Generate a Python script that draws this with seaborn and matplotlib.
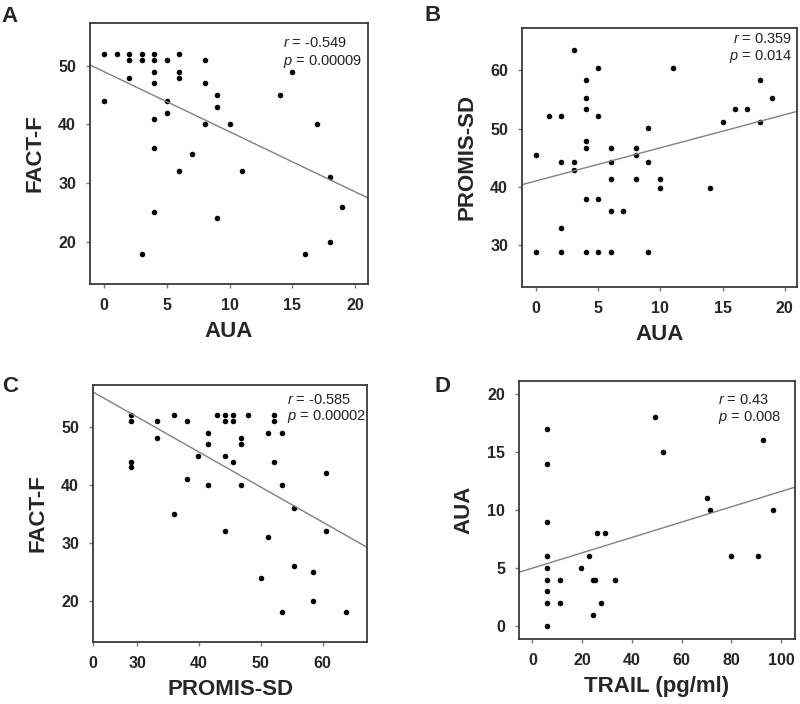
import numpy as np
import pandas as pd
import matplotlib
matplotlib.use("Agg")
import matplotlib.pyplot as plt
import seaborn as sns

# ---- data ----
a_aua = [0, 1, 2, 3, 4, 6, 2, 3, 4, 5, 8, 15, 4, 6, 2, 6, 4, 8, 0, 5, 9, 14, 9, 5, 4,
         8, 10, 17, 4, 7, 6, 11, 18, 19, 4, 9, 18, 3, 16]
a_fact = [52, 52, 52, 52, 52, 52, 51, 51, 51, 51, 51, 49, 49, 49, 48, 48, 47, 47, 44, 44,
          45, 45, 43, 42, 41, 40, 40, 40, 36, 35, 32, 32, 31, 26, 25, 24, 20, 18, 18]

b_aua = [3, 5, 11, 4, 18, 4, 19, 4, 16, 17, 1, 2, 5, 15, 18, 9, 4, 4, 6, 8, 0, 8, 2, 3, 6, 9,
         3, 6, 8, 10, 10, 14, 4, 5, 6, 7, 2, 0, 2, 4, 5, 6, 9]
b_promis = [63.6, 60.4, 60.4, 58.3, 58.3, 55.3, 55.3, 53.3, 53.3, 53.3, 52.2, 52.2, 52.2,
            51.2, 51.2, 50.1, 47.9, 46.7, 46.7, 46.7, 45.4, 45.4, 44.2, 44.2, 44.2, 44.2,
            42.9, 41.4, 41.4, 41.4, 39.8, 39.8, 37.9, 37.9, 35.9, 35.9, 33.0, 28.8, 28.8,
            28.8, 28.8, 28.8, 28.8]

c_promis = [28.9, 28.9, 28.9, 28.9, 33.1, 33.1, 35.9, 35.9, 38.0, 38.0, 39.8, 41.4, 41.4,
            41.4, 42.9, 44.2, 44.2, 44.2, 44.2, 45.5, 45.5, 45.5, 46.8, 46.8, 46.8, 47.9,
            50.1, 51.2, 51.2, 52.2, 52.2, 52.2, 53.4, 53.4, 53.4, 55.3, 55.3, 58.4, 58.4,
            60.5, 60.5, 63.8]
c_fact = [52, 51, 44, 43, 51, 48, 52, 35, 51, 41, 45, 49, 47, 40, 52, 52, 51, 45, 32, 52,
          51, 44, 48, 47, 40, 52, 24, 49, 31, 52, 51, 44, 49, 40, 18, 36, 26, 25, 20, 42,
          32, 18]

d_trail = [5.8, 5.8, 5.8, 5.8, 5.8, 5.8, 5.8, 5.8, 5.8, 11.0, 11.0, 19.5, 22.7, 24.3, 24.3,
           25.2, 25.9, 29.3, 27.7, 33.3, 49.4, 52.5, 70.3, 71.3, 79.7, 90.6, 92.9, 96.6]
d_aua = [17, 14, 9, 6, 5, 4, 3, 2, 0, 4, 2, 5, 6, 1, 4, 4, 8, 8, 2, 4, 18, 15, 11, 10, 6,
         6, 16, 10]

panels = [
    dict(x=a_aua, y=a_fact, xlabel="AUA", ylabel="FACT-F", letter="A",
         xlim=(-1.14, 21.04), ylim=(12.8, 57.3), xticks=[0, 5, 10, 15, 20],
         xticklabels=None, yticks=[20, 30, 40, 50],
         r="-0.549", p="0.00009", tx=0.694, ha="left", ty=(0.925, 0.854),
         rect=(90, 23, 368, 284), letter_xy=(1, 6)),
    dict(x=b_aua, y=b_promis, xlabel="AUA", ylabel="PROMIS-SD", letter="B",
         xlim=(-1.15, 21.0), ylim=(22.8, 67.3), xticks=[0, 5, 10, 15, 20],
         xticklabels=None, yticks=[30, 40, 50, 60],
         r="0.359", p="0.014", tx=0.984, ha="right", ty=(0.957, 0.889),
         rect=(522, 28, 797, 287), letter_xy=(425, 5)),
    dict(x=c_promis, y=c_fact, xlabel="PROMIS-SD", ylabel="FACT-F", letter="C",
         xlim=(22.8, 67.2), ylim=(12.9, 57.2), xticks=[22.8, 30, 40, 50, 60],
         xticklabels=["0", "30", "40", "50", "60"], yticks=[20, 30, 40, 50],
         r="-0.585", p="0.00002", tx=0.708, ha="left", ty=(0.942, 0.879),
         rect=(93, 385, 367, 642), letter_xy=(2, 376)),
    dict(x=d_trail, y=d_aua, xlabel="TRAIL (pg/ml)", ylabel="AUA", letter="D",
         xlim=(-5.4, 105.6), ylim=(-1.1, 21.1), xticks=[0, 20, 40, 60, 80, 100],
         xticklabels=None, yticks=[0, 5, 10, 15, 20],
         r="0.43", p="0.008", tx=0.721, ha="left", ty=(0.926, 0.86),
         rect=(519, 381, 795, 639), letter_xy=(435, 376)),
]

sns.set_theme(style="ticks")
plt.rcParams["font.family"] = ["Liberation Sans", "DejaVu Sans"]
plt.rcParams["mathtext.fontset"] = "custom"
plt.rcParams["mathtext.it"] = "Liberation Sans:italic"
plt.rcParams["mathtext.rm"] = "Liberation Sans"

W, H = 800, 704
fig = plt.figure(figsize=(W / 100, H / 100), dpi=100)
spine_col = "#3a3a3a"

for pd_ in panels:
    l, t, r_, b = pd_["rect"]
    ax = fig.add_axes([l / W, 1 - b / H, (r_ - l) / W, (b - t) / H])
    ax.set_xlim(*pd_["xlim"])
    ax.set_ylim(*pd_["ylim"])
    df = pd.DataFrame({"x": pd_["x"], "y": pd_["y"]})
    sns.regplot(data=df, x="x", y="y", ax=ax, ci=None, truncate=False,
                scatter_kws=dict(s=16, color="black", linewidths=0, alpha=1),
                line_kws=dict(color="#808080", lw=1.0))
    ax.set_xlim(*pd_["xlim"])
    ax.set_ylim(*pd_["ylim"])
    ax.set_xticks(pd_["xticks"])
    if pd_["xticklabels"] is not None:
        ax.set_xticklabels(pd_["xticklabels"])
    ax.set_yticks(pd_["yticks"])
    for s in ax.spines.values():
        s.set_visible(True)
        s.set_color(spine_col)
        s.set_linewidth(1.3)
    ax.tick_params(axis="both", direction="out", length=3, width=1, color="#777777",
                   labelsize=11.5, pad=7)
    for lab in ax.get_xticklabels() + ax.get_yticklabels():
        lab.set_fontweight("bold")
    ax.set_xlabel(pd_["xlabel"], fontsize=16, fontweight="bold", labelpad=6)
    ax.set_ylabel(pd_["ylabel"], fontsize=16, fontweight="bold", labelpad=9)
    ax.text(pd_["tx"], pd_["ty"][0], "$r$ = " + pd_["r"], transform=ax.transAxes,
            ha=pd_["ha"], va="center", fontsize=10.5, color="#222222")
    ax.text(pd_["tx"], pd_["ty"][1], "$p$ = " + pd_["p"], transform=ax.transAxes,
            ha=pd_["ha"], va="center", fontsize=10.5, color="#222222")
    lx, ly = pd_["letter_xy"]
    fig.text(lx / W, 1 - ly / H, pd_["letter"], ha="left", va="top",
             fontsize=16, fontweight="bold")

fig.savefig("out.png", dpi=100)
